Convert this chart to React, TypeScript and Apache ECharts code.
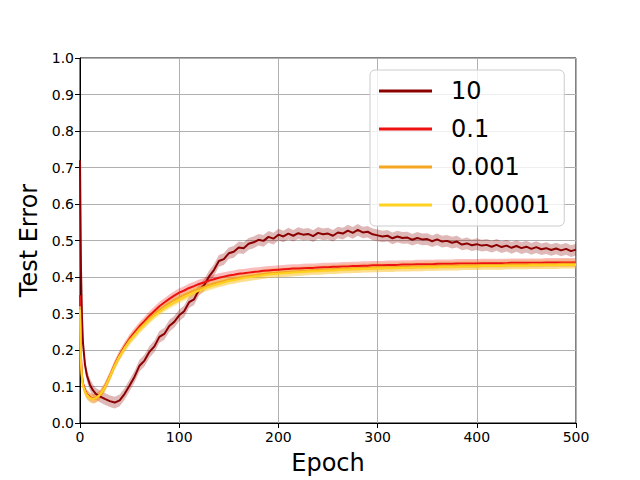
import React, { useEffect, useRef } from 'react';
import * as echarts from 'echarts';

const earlyEpochs = [0, 1, 2, 3, 5, 7, 10, 13, 16];
const epochs = earlyEpochs.concat(Array.from({ length: 97 }, (_, i) => 20 + 5 * i));

const seriesNames = ['10', '0.1', '0.001', '0.00001'];
const seriesColors = ['#8b0000', '#ee1111', '#f5a623', '#ffd21f'];
const bandColors = ['rgba(139,0,0,0.28)', 'rgba(238,17,17,0.28)', 'rgba(245,166,35,0.3)', 'rgba(255,210,31,0.3)'];
const bandHalfWidths = [0.016, 0.012, 0.013, 0.01];

const err10 = [
  0.72, 0.42, 0.29, 0.22, 0.16, 0.13, 0.105, 0.09, 0.08,
  0.073, 0.066, 0.060, 0.056, 0.062, 0.080, 0.103, 0.127, 0.157, 0.171,
  0.195, 0.210, 0.236, 0.244, 0.266, 0.277, 0.295, 0.306, 0.331, 0.339,
  0.365, 0.377, 0.401, 0.419, 0.444, 0.449, 0.465, 0.469, 0.481, 0.479,
  0.491, 0.495, 0.502, 0.499, 0.510, 0.505, 0.516, 0.511, 0.519, 0.513,
  0.520, 0.516, 0.518, 0.512, 0.521, 0.517, 0.519, 0.513, 0.522, 0.519,
  0.527, 0.521, 0.529, 0.522, 0.524, 0.517, 0.514, 0.511, 0.513, 0.506,
  0.511, 0.507, 0.508, 0.502, 0.507, 0.503, 0.504, 0.498, 0.503, 0.497,
  0.499, 0.494, 0.497, 0.489, 0.492, 0.487, 0.490, 0.486, 0.488, 0.483,
  0.488, 0.482, 0.486, 0.480, 0.485, 0.479, 0.483, 0.477, 0.482, 0.476,
  0.479, 0.474, 0.478, 0.473, 0.477, 0.471, 0.475,
];

const err01 = [
  0.35, 0.18, 0.13, 0.108, 0.09, 0.079, 0.071, 0.067, 0.068,
  0.077, 0.098, 0.128, 0.160, 0.187, 0.210, 0.231, 0.248, 0.265, 0.279,
  0.294, 0.307, 0.320, 0.330, 0.340, 0.349, 0.357, 0.363, 0.370, 0.375,
  0.381, 0.385, 0.390, 0.394, 0.398, 0.401, 0.404, 0.406, 0.409, 0.410,
  0.412, 0.414, 0.415, 0.417, 0.418, 0.419, 0.420, 0.421, 0.422, 0.423,
  0.423, 0.424, 0.425, 0.425, 0.426, 0.427, 0.427, 0.428, 0.428, 0.429,
  0.429, 0.430, 0.430, 0.431, 0.431, 0.432, 0.432, 0.432, 0.433, 0.433,
  0.433, 0.434, 0.434, 0.434, 0.435, 0.435, 0.435, 0.435, 0.436, 0.436,
  0.436, 0.436, 0.437, 0.437, 0.437, 0.437, 0.437, 0.438, 0.438, 0.438,
  0.438, 0.438, 0.438, 0.439, 0.439, 0.439, 0.439, 0.439, 0.439, 0.439,
  0.440, 0.440, 0.440, 0.440, 0.440, 0.440, 0.440,
];

const err0001 = [
  0.32, 0.165, 0.125, 0.104, 0.087, 0.077, 0.069, 0.066, 0.068,
  0.077, 0.097, 0.127, 0.158, 0.185, 0.207, 0.227, 0.243, 0.259, 0.273,
  0.287, 0.299, 0.310, 0.320, 0.329, 0.337, 0.344, 0.351, 0.357, 0.363,
  0.368, 0.373, 0.378, 0.382, 0.386, 0.389, 0.393, 0.395, 0.398, 0.400,
  0.402, 0.404, 0.406, 0.408, 0.410, 0.411, 0.412, 0.413, 0.414, 0.415,
  0.416, 0.417, 0.418, 0.419, 0.419, 0.420, 0.421, 0.421, 0.422, 0.423,
  0.423, 0.424, 0.424, 0.425, 0.425, 0.426, 0.426, 0.427, 0.427, 0.427,
  0.428, 0.428, 0.428, 0.429, 0.429, 0.429, 0.430, 0.430, 0.430, 0.431,
  0.431, 0.431, 0.431, 0.432, 0.432, 0.432, 0.432, 0.433, 0.433, 0.433,
  0.433, 0.433, 0.434, 0.434, 0.434, 0.434, 0.434, 0.435, 0.435, 0.435,
  0.435, 0.435, 0.435, 0.436, 0.436, 0.436, 0.436,
];

const err00001 = [
  0.31, 0.16, 0.122, 0.102, 0.086, 0.076, 0.068, 0.066, 0.068,
  0.077, 0.097, 0.126, 0.157, 0.183, 0.205, 0.224, 0.240, 0.255, 0.269,
  0.282, 0.294, 0.304, 0.314, 0.322, 0.330, 0.337, 0.344, 0.351, 0.357,
  0.363, 0.368, 0.373, 0.377, 0.381, 0.385, 0.389, 0.391, 0.394, 0.397,
  0.399, 0.401, 0.403, 0.405, 0.407, 0.408, 0.409, 0.410, 0.411, 0.412,
  0.413, 0.414, 0.415, 0.416, 0.416, 0.417, 0.418, 0.418, 0.419, 0.420,
  0.420, 0.421, 0.421, 0.422, 0.422, 0.423, 0.423, 0.424, 0.424, 0.424,
  0.425, 0.425, 0.425, 0.426, 0.426, 0.426, 0.427, 0.427, 0.427, 0.428,
  0.428, 0.428, 0.428, 0.429, 0.429, 0.429, 0.429, 0.430, 0.430, 0.430,
  0.430, 0.430, 0.431, 0.431, 0.431, 0.431, 0.431, 0.432, 0.432, 0.432,
  0.432, 0.432, 0.432, 0.433, 0.433, 0.433, 0.433,
];

const allSeries = [err10, err01, err0001, err00001];

const xTicks = { min: 0, max: 500, interval: 100 };
const yTicks = { min: 0, max: 1, interval: 0.1 };

const FONT = 'DejaVu Sans';

export default function App() {
  const ref = useRef<HTMLDivElement>(null);
  useEffect(() => {
    document.body.style.margin = '0';
    const chart = echarts.init(ref.current!, null, { renderer: 'svg' });

    const bandSeries = allSeries.map((vals, si) => ({
      type: 'custom',
      name: seriesNames[si] + '_band',
      silent: true,
      z: 1,
      data: [[0, 0]],
      renderItem: (params: any, api: any) => {
        const w = bandHalfWidths[si];
        const pts: number[][] = [];
        for (let i = 0; i < epochs.length; i++) pts.push(api.coord([epochs[i], vals[i] + w]));
        for (let i = epochs.length - 1; i >= 0; i--) pts.push(api.coord([epochs[i], Math.max(0, vals[i] - w)]));
        return { type: 'polygon', shape: { points: pts }, style: { fill: bandColors[si], stroke: 'none' } };
      },
    }));

    const lineSeries = allSeries.map((vals, si) => ({
      type: 'line',
      name: seriesNames[si],
      data: epochs.map((e, i) => [e, vals[i]]),
      showSymbol: false,
      symbol: 'none',
      z: 2,
      lineStyle: { color: seriesColors[si], width: 2 },
      itemStyle: { color: seriesColors[si] },
    }));

    chart.setOption({
      animation: false,
      grid: { left: 80, top: 58, width: 496, height: 370, show: true, borderColor: '#000', borderWidth: 1, backgroundColor: '#fff' },
      legend: {
        data: seriesNames.map((n) => ({ name: n, icon: 'rect' })),
        orient: 'vertical',
        left: 370,
        top: 70,
        itemWidth: 53,
        itemHeight: 3,
        itemGap: 14,
        padding: [9, 14, 9, 9],
        selectedMode: false,
        backgroundColor: 'rgba(255,255,255,0.8)',
        borderColor: '#cccccc',
        borderWidth: 1,
        borderRadius: 5,
        textStyle: { fontSize: 24, fontFamily: FONT, color: '#000', padding: [0, 0, 0, 14] },
      },
      xAxis: {
        type: 'value',
        min: xTicks.min,
        max: xTicks.max,
        interval: xTicks.interval,
        name: 'Epoch',
        nameLocation: 'middle',
        nameGap: 28,
        nameTextStyle: { fontSize: 24, fontFamily: FONT, color: '#000' },
        axisLine: { show: true, lineStyle: { color: '#000', width: 1 } },
        axisTick: { show: true, length: 5, lineStyle: { color: '#000' } },
        axisLabel: { fontSize: 14, fontFamily: FONT, color: '#000', margin: 7 },
        splitLine: { show: true, lineStyle: { color: '#b0b0b0', width: 1 } },
      },
      yAxis: {
        type: 'value',
        min: yTicks.min,
        max: yTicks.max,
        interval: yTicks.interval,
        name: 'Test Error',
        nameLocation: 'middle',
        nameGap: 38,
        nameTextStyle: { fontSize: 24, fontFamily: FONT, color: '#000' },
        axisLine: { show: true, lineStyle: { color: '#000', width: 1 } },
        axisTick: { show: true, length: 5, lineStyle: { color: '#000' } },
        axisLabel: { fontSize: 14, fontFamily: FONT, color: '#000', margin: 6, formatter: (v: number) => v.toFixed(1) },
        splitLine: { show: true, lineStyle: { color: '#b0b0b0', width: 1 } },
      },
      series: [...bandSeries, ...lineSeries],
    });
    return () => chart.dispose();
  }, []);
  return <div ref={ref} style={{ width: 640, height: 480 }} />;
}
